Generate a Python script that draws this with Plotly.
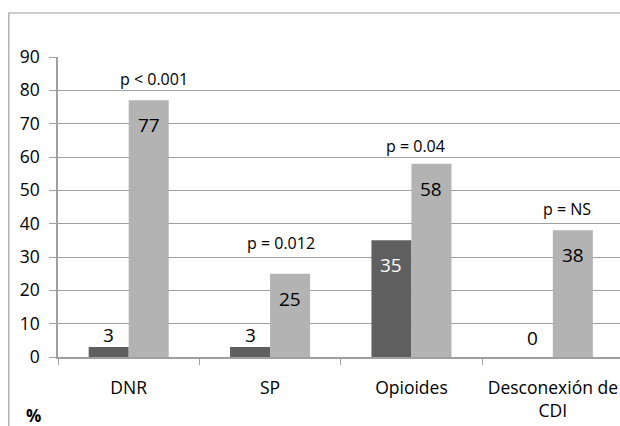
import plotly.graph_objects as go

categories = ["DNR", "SP", "Opioides", "Desconexión de<br>CDI"]
series_dark = [3, 3, 35, 0]
series_light = [77, 25, 58, 38]
p_labels = ["p < 0.001", "p = 0.012", "p = 0.04", "p = NS"]
y_ticks = [0, 10, 20, 30, 40, 50, 60, 70, 80, 90]

# style offsets (pixels)
p_xshift = [25, 11, 4, 14]
p_yshift = [21, 31, 18, 21]

FONT = "Open Sans"
DARK = "#5f5f5f"
LIGHT = "#b3b3b3"
GRID = "#a0a0a0"

fig = go.Figure()
fig.add_trace(go.Bar(x=categories, y=series_dark, marker_color=DARK,
                     marker_line_width=0, hoverinfo="skip"))
fig.add_trace(go.Bar(x=categories, y=series_light, marker_color=LIGHT,
                     marker_line_width=0, hoverinfo="skip"))

annotations = []
bar_off = 20
for i, cat in enumerate(categories):
    for vals, dx, inside_color in ((series_dark, -bar_off, "white"),
                                   (series_light, bar_off, "black")):
        v = vals[i]
        if v >= 20:
            annotations.append(dict(x=cat, y=v, xref="x", yref="y", text=str(v),
                                    showarrow=False, xshift=dx, yshift=-25,
                                    yanchor="middle",
                                    font=dict(family=FONT, size=19, color=inside_color)))
        else:
            annotations.append(dict(x=cat, y=v, xref="x", yref="y", text=str(v),
                                    showarrow=False, xshift=dx, yshift=-3 if v else 4,
                                    yanchor="bottom",
                                    font=dict(family=FONT, size=19, color="black")))
    annotations.append(dict(x=cat, y=series_light[i], xref="x", yref="y",
                            text=p_labels[i], showarrow=False,
                            xshift=p_xshift[i], yshift=p_yshift[i], yanchor="middle",
                            font=dict(family=FONT, size=16, color="black")))

annotations.append(dict(x=-0.043, y=-0.195, xref="paper", yref="paper", text="<b>%</b>",
                        showarrow=False, xanchor="center", yanchor="middle",
                        font=dict(family=FONT, size=17, color="black")))

fig.update_layout(
    width=620, height=426,
    margin=dict(l=58, r=0, t=57, b=69),
    paper_bgcolor="white", plot_bgcolor="white",
    barmode="group", bargap=0.434, bargroupgap=0,
    showlegend=False,
    annotations=annotations,
    shapes=[dict(type="rect", xref="paper", yref="paper",
                 x0=-0.0875, x1=1.1, y0=-0.3, y1=1.1467,
                 line=dict(color="#a0a0a0", width=1.2), fillcolor="rgba(0,0,0,0)",
                 layer="below")],
    xaxis=dict(range=[-0.5, 3.475], showline=True, linecolor=GRID, linewidth=1.5,
               ticks="outside", tickson="boundaries", ticklen=6, tickcolor=GRID,
               tickwidth=1.2, showgrid=False, ticklabelstandoff=14,
               tickfont=dict(family=FONT, size=17.5, color="black")),
    yaxis=dict(range=[0, 90], tickvals=y_ticks, showline=True, linecolor=GRID,
               linewidth=1.5, ticks="outside", ticklen=7, tickcolor=GRID, tickwidth=1.2,
               showgrid=True, gridcolor=GRID, gridwidth=1.2, zeroline=False,
               ticklabelstandoff=6,
               tickfont=dict(family=FONT, size=17.5, color="black")),
)

fig.write_html("out.html", config={"displayModeBar": False},
               post_script="document.body.style.margin='0';document.body.style.overflow='hidden';")
